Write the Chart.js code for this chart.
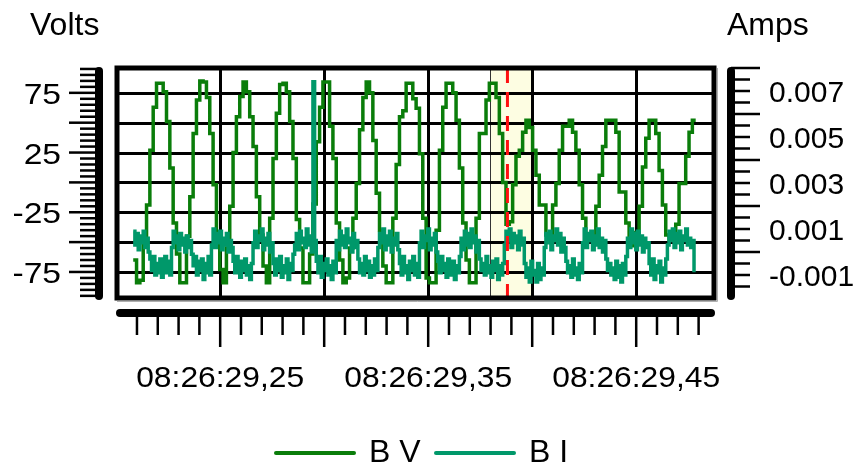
<!DOCTYPE html>
<html>
<head>
<meta charset="utf-8">
<script src="https://cdn.jsdelivr.net/npm/chart.js@4.4.1/dist/chart.umd.min.js"></script>
<style>
  html, body { margin: 0; padding: 0; background: #fff; }
  #wrap { width: 865px; height: 469px; }
</style>
</head>
<body>
<div id="wrap"><canvas id="scopeChart" width="865" height="469"></canvas></div>
<script>
    // sample clock of the recorder (seconds after 08:26:29)
    const voltStart = 0.2082, voltStep = 0.0016;
    const ampStart = 0.2082, ampStep = 0.0008;

    // B V, volts, one value per sample
    const voltsBV = [
        -65, -84, -82, -50, -19, 27, 63, 83, 83, 76, 51, 12, -34, -60, -84, -84,
        -45, -12, 41, 69, 85, 84, 71, 41, -2, -44, -73, -84,
        -55, -20, 25, 55, 72, 84, 76, 55, 30, -12, -44, -70, -84,
        -30, 20, 58, 82, 83, 76, 51, 20, -31, -55, -84, -84,
        -60, -18, 34, 63, 84, 84, 47, 20, -34, -65, -84, -80,
        -55, -30, -1, 44, 71, 84, 75, 35, -9, -40, -70, -84, -84,
        -30, 15, 55, 60, 83, 83, 70, 62, 24, -30, -80, -84, -84,
        -40, 27, 63, 83, 83, 75, 52, 12, -34, -65, -84, -84,
        -30, 41, 41, 69, 83, 83, 71, 41, 0, -35, -33, -2, 22, 27, 42, 52,
        46, 27, 6, -19, -19, -44, -44, -19, -1, 27, 47, 47, 52,
        42, 27, -2, -30, -48, -48, -48, -20, 6, 30, 52, 52, 52, 42, -8, -8, -34, -53, -53, -42,
        -20, 13, 37, 52, 52, 41, 10, -19, -44, -48, -48, -35, -1, -1, 22, 42, 52, 52
    ];

    // B I, milliamps, one value per sample
    const milliAmpsBI = [
        0.9, 0.3, 0.8, 0.1, 0.7, 0.4, 0.9, 0.2, 0.6, 0.0, -0.3, -0.8, -0.2, -1.0, -0.5, -0.9, -0.3, -1.1, -0.6, -0.2, -0.9, -0.4, -1.0,
        0.2, 0.9, 0.4, 0.7, 0.1, 0.8, 0.3, 0.6, 0.0, 0.7, 0.2, 0.5, -0.1, -0.6, -0.2, -1.0, -0.4, -0.8, -0.3, -1.2, -0.5, -0.9, -0.2, -1.0,
        0.3, 1.0, 0.2, 0.8, 0.4, 0.9, 0.1, 0.6, 0.3, 0.8, 0.0, 0.5, 0.2, -0.4, -0.9, -0.2, -0.7, -1.1, -0.4, -0.8, -0.3, -1.0, -0.6, -1.2, -0.5,
        0.4, 0.9, 0.2, 0.7, 0.5, 1.0, 0.1, 0.6, 0.3, 0.8, 0.0, 0.4, -0.5, -1.0, -0.3, -0.8, -0.2, -1.1, -0.6, -0.9, -0.3, -1.2, -0.5, -0.8, -0.1,
        0.3, 0.8, 0.1, 0.9, 0.4, 0.6, 0.2, 1.0, 0.3, 0.7, 0.0, 7.4, 0.5, -0.4, -0.9, -0.2, -1.1, -0.5, -0.8, -0.3, -1.0, -0.6, -1.2, -0.4, -0.9,
        0.5, 0.1, 0.9, 0.3, 0.7, 0.2, 1.0, 0.4, 0.6, 0.0, 0.8, 0.2, 0.5, -0.3, -0.9, -0.5, -1.0, -0.2, -0.8, -0.4, -1.1, -0.6, -1.0, -0.3, -0.8,
        0.2, 0.8, 0.4, 1.0, 0.1, 0.7, 0.3, 0.9, 0.0, 0.6, 0.3, 0.8, 0.1, -0.5, -1.0, -0.2, -0.9, -0.6, -1.2, -0.4, -0.8, -0.2, -1.0, -0.5, -1.1,
        0.4, 0.9, 0.2, 0.7, 0.5, 1.0, 0.1, 0.6, 0.3, 0.8, 0.0, -0.4, -0.9, -0.2, -0.8, -0.5, -1.1, -0.3, -0.7, -1.0, -0.4, -1.2, -0.6, -0.9, -0.2,
        0.6, 0.1, 0.9, 0.3, 0.8, 0.2, 1.0, 0.4, 0.7, 0.0, 0.5, -0.3, -0.8, -0.5, -1.0, -0.2, -0.9, -0.6, -1.1, -0.4, -0.8, -0.3, -1.2, -0.6, -1.0, -0.5,
        0.3, 0.9, 0.5, 1.0, 0.2, 0.8, 0.4, 0.7, 0.1, 0.9, 0.3, 0.6, -0.5, -1.1, -0.7, -1.3, -0.4, -1.0, -0.8, -1.3, -0.5, -1.2, -0.7, -1.0,
        0.2, 0.8, 0.4, 0.9, 0.1, 0.7, 0.5, 1.0, 0.3, 0.8, 0.0, 0.6, 0.2, -0.4, -0.9, -0.6, -1.1, -0.3, -1.0, -0.7, -1.2, -0.5, -0.9,
        0.4, 1.0, 0.2, 0.8, 0.5, 0.9, 0.1, 0.7, 0.3, 1.0, 0.2, 0.6, 0.0, 0.5, -0.3, -0.8, -0.5, -1.0, -0.7, -1.2, -0.4, -1.1, -0.6, -1.3, -0.5, -1.0, -0.2,
        0.6, 0.2, 1.0, 0.4, 0.8, 0.1, 0.9, 0.3, 0.7, 0.0, 0.6, 0.2, 0.4, -0.5, -1.0, -0.3, -1.2, -0.6, -0.9, -0.4, -1.3, -0.7, -1.0, -0.3,
        0.3, 0.9, 0.5, 1.0, 0.2, 0.8, 0.4, 0.9, 0.1, 0.7, 0.5, 1.0, 0.3, 0.6, 0.2, 0.5, -0.8, -0.8
    ];

    // axes
    const timeGrid = [0.25, 0.30, 0.35, 0.40, 0.45];
    const timeLabelAt = [0.25, 0.35, 0.45];
    const timeLabels = ['08:26:29,25', '08:26:29,35', '08:26:29,45'];
    const voltGrid = [-75, -50, -25, 0, 25, 50, 75];
    const voltLabels = [75, 25, -25, -75];
    const ampLabels = [0.007, 0.005, 0.003, 0.001, -0.001];

    // cursor + selected band
    const selStart = 0.3797, selEnd = 0.40, cursorTime = 0.3881;

    const GREEN = '#0a7d0a';
    const TEAL = '#00986a';
    const FONT = '"Liberation Sans", Arial, sans-serif';

    function seg(ctx, x1, y1, x2, y2) {
        ctx.beginPath(); ctx.moveTo(x1, y1); ctx.lineTo(x2, y2); ctx.stroke();
    }

    function wideText(ctx, txt, x, y, sx, align) {
        ctx.save();
        ctx.translate(x, y);
        ctx.scale(sx, 1);
        ctx.textAlign = align;
        ctx.fillText(txt, 0, 0);
        ctx.restore();
    }

    const scopeDecor = {
        id: 'scopeDecor',
        beforeDatasetsDraw(chart) {
            const { ctx, chartArea: a, scales: { x, y } } = chart;
            ctx.save();
            const s0 = x.getPixelForValue(selStart), s1 = x.getPixelForValue(selEnd);
            ctx.fillStyle = '#fdfde2';
            ctx.fillRect(s0, a.top, s1 - s0, a.bottom - a.top);
            ctx.strokeStyle = '#333'; ctx.lineWidth = 1;
            seg(ctx, Math.round(s0) + 0.5, a.top, Math.round(s0) + 0.5, a.bottom);

            ctx.strokeStyle = '#000'; ctx.lineWidth = 3;
            voltGrid.forEach(v => {
                const py = Math.round(y.getPixelForValue(v)) + 0.5;
                seg(ctx, a.left, py, a.right, py);
            });
            timeGrid.forEach(t => {
                const px = Math.round(x.getPixelForValue(t)) + 0.5;
                seg(ctx, px, a.top, px, a.bottom);
            });
            ctx.restore();
        },
        afterDatasetsDraw(chart) {
            const { ctx, chartArea: a, scales: { x } } = chart;
            ctx.save();
            const cx = x.getPixelForValue(cursorTime);
            ctx.strokeStyle = '#ff1010'; ctx.lineWidth = 3;
            ctx.setLineDash([15, 9]);
            seg(ctx, cx, a.top, cx, a.bottom);
            ctx.setLineDash([]);

            ctx.strokeStyle = '#b0b0b0'; ctx.lineWidth = 1;
            seg(ctx, a.left, a.bottom + 3.5, a.right + 3.5, a.bottom + 3.5);
            seg(ctx, a.right + 3.5, a.top, a.right + 3.5, a.bottom + 3.5);
            ctx.strokeStyle = '#000'; ctx.lineWidth = 5;
            ctx.strokeRect(a.left, a.top, a.right - a.left, a.bottom - a.top);
            ctx.restore();
        },
        afterDraw(chart) {
            const { ctx, chartArea: a, scales: { x, y, y1 } } = chart;
            ctx.save();
            ctx.strokeStyle = '#000'; ctx.fillStyle = '#000';

            // left volts axis
            const lx = 99;
            ctx.lineCap = 'butt'; ctx.lineWidth = 2.5;
            for (let v = -95; v <= 95; v += 5) {
                const py = y.getPixelForValue(v);
                seg(ctx, v % 25 === 0 ? 69 : 80, py, lx, py);
            }
            ctx.lineCap = 'round'; ctx.lineWidth = 8;
            seg(ctx, lx, a.top + 3, lx, a.bottom - 2);

            // right amps axis
            const rx = 731;
            ctx.lineCap = 'butt'; ctx.lineWidth = 2.5;
            for (let k = -3; k <= 16; k++) {
                const py = y1.getPixelForValue(k * 0.0005);
                seg(ctx, rx, py, k % 4 === 0 ? 760 : 750, py);
            }
            ctx.lineCap = 'round'; ctx.lineWidth = 8;
            seg(ctx, rx, a.top + 3, rx, a.bottom - 2);

            // bottom time axis
            const by = 313;
            ctx.lineCap = 'butt'; ctx.lineWidth = 2.5;
            for (let k = 21; k <= 48; k++) {
                const px = x.getPixelForValue(k / 100);
                seg(ctx, px, by, px, k % 5 === 0 ? 347 : 335);
            }
            ctx.lineCap = 'round'; ctx.lineWidth = 8;
            seg(ctx, a.left + 3, by, a.right - 3, by);

            // tick labels
            ctx.font = '30px ' + FONT;
            ctx.textBaseline = 'alphabetic';
            voltLabels.forEach(v => wideText(ctx, String(v), 61, y.getPixelForValue(v) + 11, 1.12, 'right'));
            ampLabels.forEach(v => wideText(ctx, String(v), 769, y1.getPixelForValue(v) + 11, 1.0, 'left'));
            timeLabelAt.forEach((t, i) => wideText(ctx, timeLabels[i], x.getPixelForValue(t), 387, 1.06, 'center'));

            // axis titles
            ctx.font = '32px ' + FONT;
            wideText(ctx, 'Volts', 30, 35, 1.0, 'left');
            wideText(ctx, 'Amps', 727, 35, 1.0, 'left');

            // legend
            ctx.lineCap = 'round'; ctx.lineWidth = 4;
            ctx.strokeStyle = GREEN; seg(ctx, 276, 453, 354, 453);
            ctx.strokeStyle = TEAL; seg(ctx, 436, 453, 514, 453);
            ctx.font = '32px ' + FONT;
            wideText(ctx, chart.data.datasets[0].label, 369, 462, 1.0, 'left');
            wideText(ctx, chart.data.datasets[1].label, 529, 462, 1.0, 'left');
            ctx.restore();
        }
    };

    new Chart(document.getElementById('scopeChart').getContext('2d'), {
        type: 'line',
        data: {
            datasets: [{
                label: 'B V',
                data: voltsBV.map((v, i) => ({ x: voltStart + i * voltStep, y: v })),
                yAxisID: 'y',
                borderColor: GREEN,
                borderWidth: 3.5,
                stepped: true,
                pointRadius: 0,
                order: 2
            }, {
                label: 'B I',
                data: milliAmpsBI.map((v, i) => ({ x: ampStart + i * ampStep, y: v / 1000 })),
                yAxisID: 'y1',
                borderColor: TEAL,
                borderWidth: 3.5,
                stepped: true,
                pointRadius: 0,
                order: 1
            }]
        },
        options: {
            responsive: false,
            animation: false,
            events: [],
            devicePixelRatio: 1,
            layout: { padding: { left: 117, right: 151, top: 68, bottom: 171 } },
            plugins: { legend: { display: false }, tooltip: { enabled: false } },
            scales: {
                x: { type: 'linear', min: 0.2004, max: 0.4874, display: false },
                y: { min: -96.8, max: 95.8, display: false },
                y1: { min: -0.002, max: 0.008, display: false }
            }
        },
        plugins: [scopeDecor]
    });
</script>
</body>
</html>
